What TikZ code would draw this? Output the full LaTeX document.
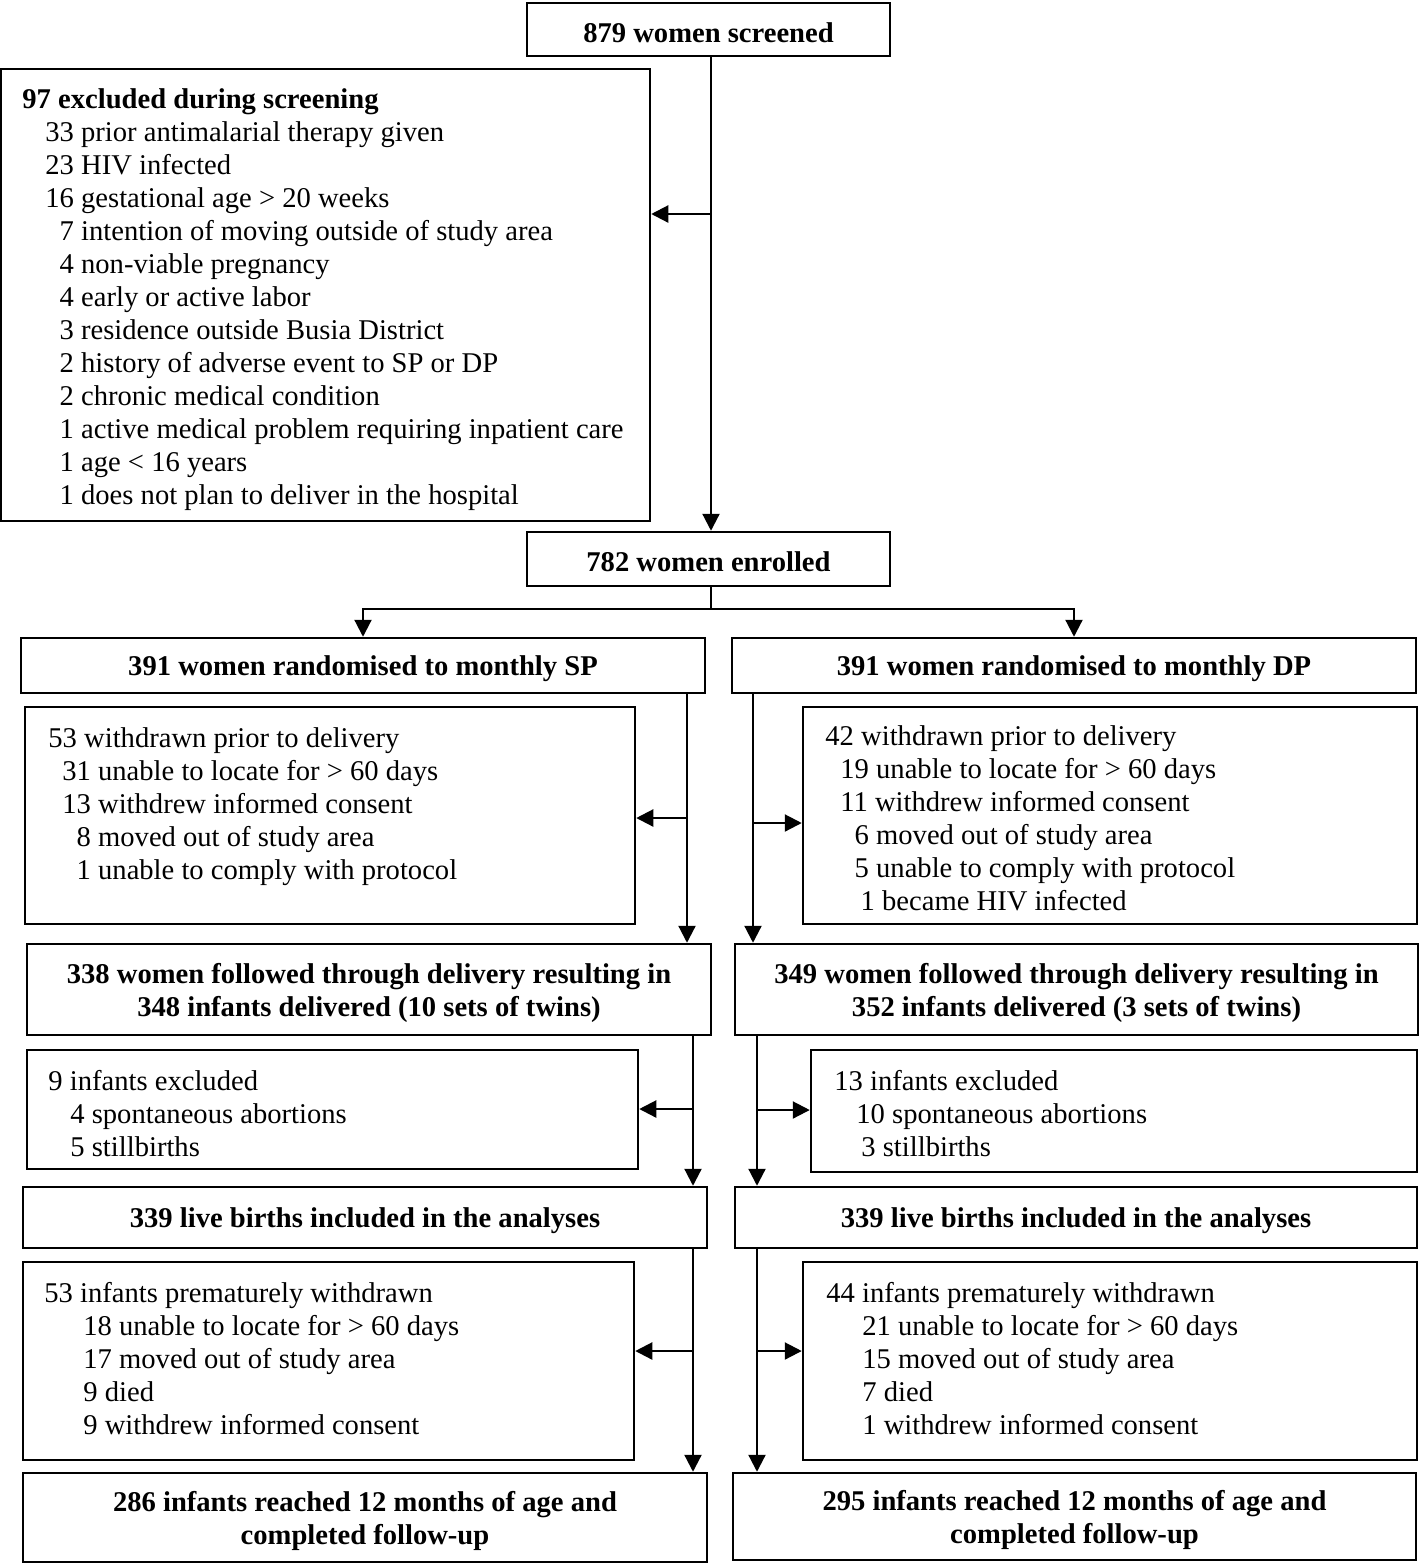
\documentclass[tikz,border=0pt]{standalone}
\usepackage{fontspec}
\setmainfont{Liberation Serif}
\usetikzlibrary{arrows.meta}
\tikzset{
  box/.style={draw, line width=1.25pt, inner sep=0pt},
  boxtext/.style={inner sep=0pt, align=center, yshift=-1.5pt,
              font=\bfseries\fontsize{14.3}{16.5}\selectfont},
  txt/.style={inner sep=0pt, anchor=base west, font=\fontsize{14.3}{16.5}\selectfont},
  conn/.style={line width=1.1pt},
  arr/.style={conn, -{Triangle[length=8.5pt,width=8.5pt]}},
}
\newcommand\flowbox[6]{\node[box, minimum width={(#4-#2)*0.5pt}, minimum height={(#5-#3)*0.5pt}, label={[boxtext]center:#6}] (#1) at ({(#2+#4)/2},{(#3+#5)/2}) {};}
\newcommand\ind[1]{\hspace*{#1}}
\begin{document}
\begin{tikzpicture}[x=0.5pt,y=-0.5pt]
\useasboundingbox (0,0) rectangle (1420,1564);

% ---- boxes ----
\flowbox{screened}{527}{3}{890}{56}{879 women screened}
\flowbox{excl}{1}{69}{650}{521}{}
\flowbox{enrolled}{527}{532}{890}{586}{782 women enrolled}
\flowbox{sp}{21}{638}{705}{693}{391 women randomised to monthly SP}
\flowbox{dp}{732}{638}{1416}{693}{391 women randomised to monthly DP}
\flowbox{spw}{25}{707}{635}{924}{}
\flowbox{dpw}{803}{707}{1417}{924}{}
\flowbox{spdel}{27}{944}{711}{1035}{338 women followed through delivery resulting in\\348 infants delivered (10 sets of twins)}
\flowbox{dpdel}{735}{944}{1418}{1035}{349 women followed through delivery resulting in\\352 infants delivered (3 sets of twins)}
\flowbox{spex}{27}{1050}{638}{1169}{}
\flowbox{dpex}{811}{1050}{1417}{1172}{}
\flowbox{splive}{23}{1187}{707}{1248}{339 live births included in the analyses}
\flowbox{dplive}{735}{1187}{1417}{1248}{339 live births included in the analyses}
\flowbox{spiw}{23}{1262}{634}{1460}{}
\flowbox{dpiw}{803}{1262}{1417}{1460}{}
\flowbox{spfin}{23}{1473}{707}{1562}{286 infants reached 12 months of age and\\completed follow-up}
\flowbox{dpfin}{733}{1473}{1416}{1560}{295 infants reached 12 months of age and\\completed follow-up}

% ---- box texts ----
\node[txt] (excltxt) at (22,108) {\begin{tabular}[t]{@{}l@{}}
\textbf{97 excluded during screening}\\
\ind{11.5pt}33 prior antimalarial therapy given\\
\ind{11.5pt}23 HIV infected\\
\ind{11.5pt}16 gestational age > 20 weeks\\
\ind{11.5pt}\phantom{0}7 intention of moving outside of study area\\
\ind{11.5pt}\phantom{0}4 non-viable pregnancy\\
\ind{11.5pt}\phantom{0}4 early or active labor\\
\ind{11.5pt}\phantom{0}3 residence outside Busia District\\
\ind{11.5pt}\phantom{0}2 history of adverse event to SP or DP\\
\ind{11.5pt}\phantom{0}2 chronic medical condition\\
\ind{11.5pt}\phantom{0}1 active medical problem requiring inpatient care\\
\ind{11.5pt}\phantom{0}1 age < 16 years\\
\ind{11.5pt}\phantom{0}1 does not plan to deliver in the hospital
\end{tabular}};

\node[txt] (spwtxt) at (48,747) {\begin{tabular}[t]{@{}l@{}}
53 withdrawn prior to delivery\\
\ind{7pt}31 unable to locate for > 60 days\\
\ind{7pt}13 withdrew informed consent\\
\ind{7pt}\phantom{0}8 moved out of study area\\
\ind{7pt}\phantom{0}1 unable to comply with protocol
\end{tabular}};

\node[txt] (dpwtxt) at (825,745) {\begin{tabular}[t]{@{}l@{}}
42 withdrawn prior to delivery\\
\ind{7.5pt}19 unable to locate for > 60 days\\
\ind{7.5pt}11 withdrew informed consent\\
\ind{7.5pt}\phantom{0}6 moved out of study area\\
\ind{7.5pt}\phantom{0}5 unable to comply with protocol\\
\ind{10.5pt}\phantom{0}1 became HIV infected
\end{tabular}};

\node[txt] (spextxt) at (48,1090) {\begin{tabular}[t]{@{}l@{}}
9 infants excluded\\
\ind{11pt}4 spontaneous abortions\\
\ind{11pt}5 stillbirths
\end{tabular}};

\node[txt] (dpextxt) at (834,1090) {\begin{tabular}[t]{@{}l@{}}
13 infants excluded\\
\ind{11pt}10 spontaneous abortions\\
\ind{13.5pt}3 stillbirths
\end{tabular}};

\node[txt] (spiwtxt) at (44,1302) {\begin{tabular}[t]{@{}l@{}}
53 infants prematurely withdrawn\\
\ind{19.5pt}18 unable to locate for > 60 days\\
\ind{19.5pt}17 moved out of study area\\
\ind{19.5pt}9 died\\
\ind{19.5pt}9 withdrew informed consent
\end{tabular}};

\node[txt] (dpiwtxt) at (826,1302) {\begin{tabular}[t]{@{}l@{}}
44 infants prematurely withdrawn\\
\ind{18pt}21 unable to locate for > 60 days\\
\ind{18pt}15 moved out of study area\\
\ind{18pt}7 died\\
\ind{18pt}1 withdrew informed consent
\end{tabular}};

% ---- connectors ----
\coordinate (mainv) at (711,0);
\coordinate (j1) at (711,214);
\coordinate (br) at (711,609);
\draw[arr] (screened.south -| mainv) -- (enrolled.north -| mainv);
\draw[arr] (j1) -- (j1 -| excl.east);
\draw[conn] (enrolled.south -| mainv) -- (br);
\draw[arr] (br) -| (sp.north);
\draw[arr] (br) -| (dp.north);

\coordinate (a1) at (687,818);
\coordinate (a2) at (753,823);
\draw[arr] (sp.south -| a1) -- (spdel.north -| a1);
\draw[arr] (a1) -- (a1 -| spw.east);
\draw[arr] (dp.south -| a2) -- (dpdel.north -| a2);
\draw[arr] (a2) -- (a2 -| dpw.west);

\coordinate (a3) at (693,1109);
\coordinate (a4) at (757,1110);
\draw[arr] (spdel.south -| a3) -- (splive.north -| a3);
\draw[arr] (a3) -- (a3 -| spex.east);
\draw[arr] (dpdel.south -| a4) -- (dplive.north -| a4);
\draw[arr] (a4) -- (a4 -| dpex.west);

\coordinate (a5) at (693,1351);
\coordinate (a6) at (757,1351);
\draw[arr] (splive.south -| a5) -- (spfin.north -| a5);
\draw[arr] (a5) -- (a5 -| spiw.east);
\draw[arr] (dplive.south -| a6) -- (dpfin.north -| a6);
\draw[arr] (a6) -- (a6 -| dpiw.west);
\end{tikzpicture}
\end{document}
